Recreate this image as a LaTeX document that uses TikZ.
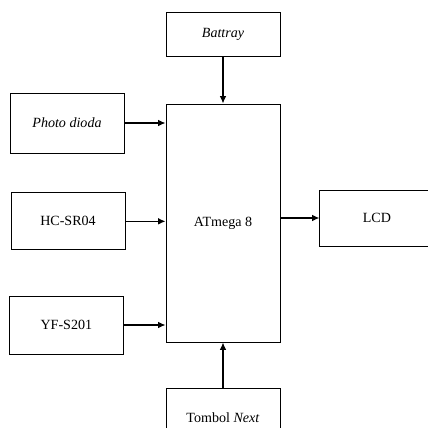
\documentclass[tikz,border=0pt]{standalone}
\usepackage{fontspec}
\setmainfont{Liberation Serif}
\usetikzlibrary{arrows.meta,positioning}

\begin{document}
\begin{tikzpicture}[
  blok/.style={draw=black,line width=0.8pt,fill=white,minimum width=3.42cm,minimum height=1.74cm,align=center,font=\fontsize{12}{14}\selectfont},
  arr/.style={-{Latex[length=2.2mm,width=2mm]},line width=1.2pt,draw=black}
]
\useasboundingbox (0,0) rectangle (12.84,12.84);
\clip (0,0) rectangle (12.84,12.84);
\node[blok,minimum height=7.14cm] (mcu) at (6.69,6.15) {ATmega 8};
\node[blok,minimum height=1.32cm,above=1.41cm of mcu] (bat) {\textit{Battray}};
\node[blok,minimum height=1.8cm] (pd) at (2.01,9.15) {\textit{Photo dioda}};
\node[blok,minimum height=1.71cm] (hc) at (2.04,6.2) {HC-SR04};
\node[blok] (yf) at (1.99,3.09) {YF-S201};
\node[blok,minimum height=1.68cm,right=1.17cm of mcu.east,anchor=west,yshift=0.15cm] (lcd) {LCD};
\node[blok,below=1.38cm of mcu] (tb) {Tombol \textit{Next}};
\draw[arr] (bat)--(mcu);
\draw[arr] (pd.east)--(pd.east -| mcu.west);
\draw[arr] (hc.east)--(hc.east -| mcu.west);
\draw[arr] (yf.east)--(yf.east -| mcu.west);
\draw[arr] (lcd.west -| mcu.east)--(lcd.west);
\draw[arr] (tb)--(mcu);
\end{tikzpicture}
\end{document}
